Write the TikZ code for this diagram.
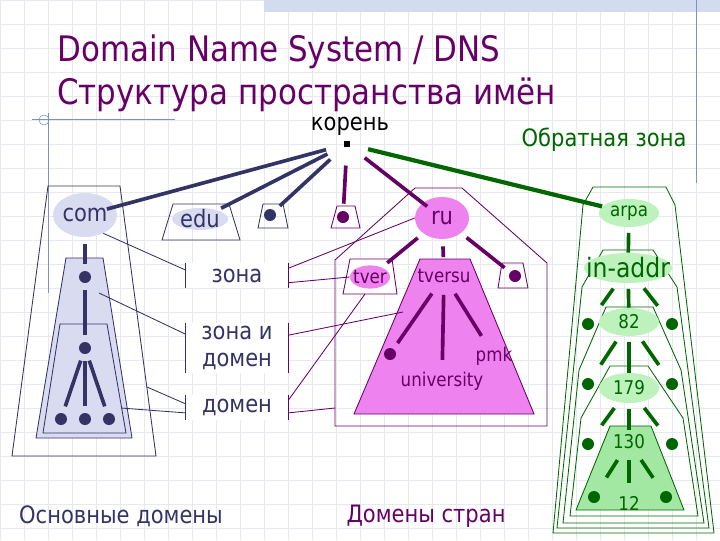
\documentclass[tikz,border=0pt]{standalone}
\usepackage{fontspec}
\setmainfont{DejaVu Sans}[FakeStretch=0.88]
\usepackage{tikz}
\usetikzlibrary{shapes.geometric}
\definecolor{dnsblue}{HTML}{333366}
\definecolor{dnspurple}{HTML}{660066}
\definecolor{dnsgreen}{HTML}{006600}
\definecolor{bluefill}{HTML}{D9DCF0}
\definecolor{pinkfill}{HTML}{EE82EE}
\definecolor{greenfill}{HTML}{BDF2BD}
\definecolor{greentrap}{HTML}{A2E8A2}
\definecolor{gridgray}{HTML}{E8E8F0}
\definecolor{decoblue}{HTML}{8090C0}
\definecolor{barblue}{HTML}{D2DCEE}
\tikzset{
  titletxt/.style={font=\fontsize{25}{30}\selectfont, text=dnspurple, anchor=base west, inner sep=0pt},
  bigtxt/.style={font=\fontsize{17}{19.5}\selectfont},
  smalltxt/.style={font=\fontsize{13.5}{16}\selectfont},
  rootsq/.style={rectangle, fill=black, minimum size=0.15cm, inner sep=0pt},
  dot/.style={circle, fill, inner sep=0pt, minimum size=0.3cm},
  bell/.style 2 args={ellipse, fill=bluefill, inner sep=0pt, label={[#2, text=dnsblue]center:#1}},
  pell/.style 2 args={ellipse, fill=pinkfill, inner sep=0pt, label={[#2, text=dnspurple]center:#1}},
  gell/.style 2 args={ellipse, fill=greenfill, inner sep=0pt, label={[#2, text=dnsgreen]center:#1}},
  bshape/.style={draw=dnsblue, line width=0.6pt},
  pshape/.style={draw=dnspurple, line width=0.6pt},
  gshape/.style={draw=dnsgreen, line width=0.6pt},
  bline/.style={draw=dnsblue, line width=2.6pt, shorten <=5pt, shorten >=5pt},
  pline/.style={draw=dnspurple, line width=2.6pt, shorten <=5pt, shorten >=5pt},
  gline/.style={draw=dnsgreen, line width=2.6pt, shorten <=4pt},
  todot/.style={shorten <=5pt, shorten >=12pt},
  rootline/.style={shorten <=13pt},
  leadb/.style={draw=dnsblue, line width=0.6pt},
  leadp/.style={draw=dnspurple, line width=0.6pt},
  zonebox/.style={bigtxt, fill=white, text=dnsblue, minimum width=2.55cm, inner sep=0pt, align=center},
}
\begin{document}
\begin{tikzpicture}[x=0.025cm, y=-0.025cm]
  \useasboundingbox (0,0) rectangle (720,540);
  % background of the slide
  \draw[gridgray, line width=0.4pt, step=0.6cm] (0,0) grid (720,540);
  \fill[barblue] (264,0) rectangle (720,12);
  \draw[decoblue, line width=0.6pt] (696,0) -- (696,183);
  \draw[decoblue, line width=0.6pt] (32,119) -- (175,119);
  \draw[decoblue, line width=0.6pt] (48,113) -- (48,293);
  \draw[decoblue, line width=0.4pt] (44,120) circle (5);

  \node[titletxt] (dnstitle) at (57,61) {Domain Name System / DNS};
  \node[titletxt] (nstitle) at (57,104) {Структура пространства имён};

  % root
  \node[rootsq] (root) at (347,144) {};
  \node[bigtxt, text=black, inner sep=1pt] (rootlbl) at (350,126) {корень};
  \node[bigtxt, text=dnsgreen] (revlbl) at (604,140) {Обратная зона};

  % generic domains
  \draw[bshape] (48,186) -- (120,186) -- (156,456) -- (12,456) -- cycle;
  \draw[bshape, fill=bluefill] (66,258) -- (103,258) -- (132,438) -- (36,438) -- cycle;
  \draw[bshape] (60,324) -- (107,324) -- (126,433) -- (43,433) -- cycle;
  \node[bell={com}{bigtxt}, minimum width=1.6cm, minimum height=1.1cm] (com) at (85,215) {};
  \node[dot, dnsblue] (comd1) at (85,277) {};
  \node[dot, dnsblue] (comd2) at (85,348) {};
  \node[dot, dnsblue] (comd3) at (61,419) {};
  \node[dot, dnsblue] (comd4) at (85,419) {};
  \node[dot, dnsblue] (comd5) at (109,419) {};
  \draw[bline] (com) -- (comd1);
  \draw[bline] (comd1) -- (comd2);
  \foreach \n in {comd3,comd4,comd5}
    \draw[bline] (comd2) -- (\n);
  \draw[bshape] (173,204) -- (229,204) -- (240,240) -- (162,240) -- cycle;
  \node[bell={edu}{bigtxt}, minimum width=1.4cm, minimum height=0.55cm] (edu) at (200,219) {};
  \draw[bshape] (263,204) -- (283,204) -- (288,228) -- (258,228) -- cycle;
  \node[dot, dnsblue] (bdot) at (270,215) {};

  % country domains
  \draw[pshape] (415,188) -- (462,188) -- (547,263) -- (547,426) -- (335,426) -- (335,260) -- cycle;
  \draw[pshape] (337,206) -- (355,206) -- (360,228) -- (331,228) -- cycle;
  \node[dot, dnspurple] (pdot) at (343,217) {};
  \node[pell={ru}{bigtxt}, minimum width=1.35cm, minimum height=1.05cm] (ru) at (442,218) {};
  \draw[pshape, fill=white] (350,259) -- (392,259) -- (397,294) -- (343,294) -- cycle;
  \node[pell={tver}{smalltxt}, minimum width=1cm, minimum height=0.58cm] (tver) at (370,277) {};
  \draw[pshape, fill=pinkfill] (420,259) -- (470,259) -- (534,414) -- (354,414) -- cycle;
  \node[smalltxt, text=dnspurple] (tversu) at (444,276) {tversu};
  \draw[pshape] (502,263) -- (523,263) -- (528,288) -- (498,288) -- cycle;
  \node[dot, dnspurple] (rudot) at (515,276) {};
  \node[dot, dnspurple] (tvdot) at (390,354) {};
  \node[smalltxt, text=dnspurple] (pmk) at (494,356) {pmk};
  \node[smalltxt, text=dnspurple] (univ) at (442,381) {university};
  \draw[pline] (ru) -- (tver);
  \draw[pline] (ru) -- (tversu);
  \draw[pline] (ru) -- (rudot);
  \foreach \n in {tvdot,univ,pmk}
    \draw[pline] (tversu) -- (\n);

  % reverse zone
  \draw[gshape] (593,187) -- (666,187) -- (675,205) -- (714,533) -- (553,533) -- (583,205) -- cycle;
  \draw[gshape] (603,250) -- (653,250) -- (677,287) -- (709,528) -- (557,528) -- (582,287) -- cycle;
  \draw[gshape] (606,307) -- (653,307) -- (681,370) -- (704,523) -- (563,523) -- (579,370) -- cycle;
  \draw[gshape] (610,366) -- (648,366) -- (683,418) -- (698,516) -- (570,516) -- (581,418) -- cycle;
  \draw[gshape, fill=greentrap] (610,426) -- (651,426) -- (684,510) -- (576,510) -- cycle;
  \node[gell={arpa}{smalltxt}, minimum width=1.5cm, minimum height=0.7cm] (arpa) at (629,213) {};
  \node[gell={in-addr}{font=\fontsize{19}{22}\selectfont}, minimum width=2.2cm, minimum height=0.75cm] (inaddr) at (628,268) {};
  \node[gell={82}{smalltxt}, minimum width=1.5cm, minimum height=0.7cm] (g82) at (629,322) {};
  \node[gell={179}{smalltxt}, minimum width=1.5cm, minimum height=0.75cm] (g179) at (629,388) {};
  \node[smalltxt, text=dnsgreen] (g130) at (629,442) {130};
  \node[smalltxt, text=dnsgreen] (g12) at (629,503) {12};
  \node[dot, dnsgreen] (gl1) at (588,324) {};
  \node[dot, dnsgreen] (gr1) at (672,324) {};
  \node[dot, dnsgreen] (gl2) at (588,384) {};
  \node[dot, dnsgreen] (gr2) at (672,384) {};
  \node[dot, dnsgreen] (gl3) at (588,444) {};
  \node[dot, dnsgreen] (gr3) at (672,444) {};
  \node[dot, dnsgreen] (gl4) at (594,497) {};
  \node[dot, dnsgreen] (gr4) at (666,497) {};
  \draw[gline] (arpa) -- (inaddr);
  \draw[gline] (inaddr) -- (g82);
  \draw[gline] (g82) -- (g179);
  \draw[gline] (g179) -- (g130);
  \draw[gline, shorten >=6pt] (g130) -- (g12);
  \foreach \a/\b in {inaddr/1,g82/2,g179/3,g130/4}{
    \draw[gline, todot] (\a) -- (gl\b);
    \draw[gline, todot] (\a) -- (gr\b);
  }

  % links from the root
  \draw[bline, rootline, shorten >=-6pt] (root) -- (com);
  \draw[bline, rootline, shorten >=3pt] (root) -- (edu);
  \draw[bline, rootline] (root) -- (bdot);
  \draw[pline, rootline] (root) -- (pdot);
  \draw[pline, rootline, shorten >=-4pt] (root) -- (ru);
  \draw[gline, rootline, line width=3pt] (root) -- (arpa);

  % zone / domain labels
  \node[zonebox, minimum height=0.625cm] (zona) at (237,275.5) {зона};
  \node[zonebox, minimum height=1.25cm] (zonadom) at (237,348) {зона и\\домен};
  \node[zonebox, minimum height=0.625cm] (domen) at (237,407.5) {домен};
  \foreach \b in {zona,zonadom,domen}{
    \draw[leadb] (\b.north west) -- (\b.south west);
    \draw[leadp] (\b.north east) -- (\b.south east);
  }
  \coordinate (midtrap) at (99,293);
  \coordinate (outerrim) at (147,387);
  \coordinate (innerrim) at (121,408);
  \coordinate (tversurim) at (403,312);
  \coordinate (tverfoot) at (365,294);
  \coordinate (ccrim) at (335,408);
  \draw[leadb] (com.-45) -- (zona.174);
  \draw[leadb] (midtrap) -- (zonadom.165);
  \draw[leadb] (outerrim) -- (domen.176);
  \draw[leadb] (innerrim) -- (domen.186);
  \draw[leadp] (zona.8) -- (ru.west);
  \draw[leadp] (zona.-8) -- (tver.west);
  \draw[leadp] (zonadom.14) -- (tversurim);
  \draw[leadp] (domen.8) -- (tverfoot);
  \draw[leadp] (domen.-6) -- (ccrim);

  \node[bigtxt, text=dnsblue] (gentitle) at (121,516) {Основные домены};
  \node[bigtxt, text=dnspurple] (cctitle) at (426,516) {Домены стран};
\end{tikzpicture}
\end{document}
